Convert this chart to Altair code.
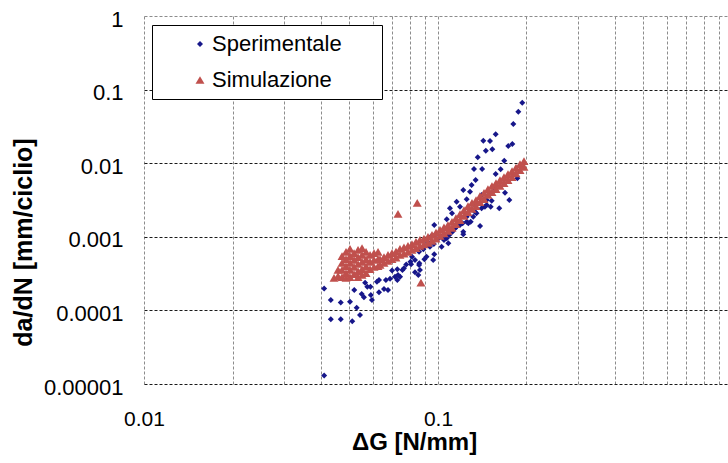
import altair as alt
import pandas as pd

# ---- Sperimentale (blue diamonds) ----
sper_x = [0.0410, 0.0432, 0.0467, 0.0502, 0.0432, 0.0467, 0.0511, 0.0529, 0.0543, 0.0410,
          0.0519, 0.0550, 0.0560, 0.0565, 0.0575, 0.0589, 0.0591, 0.0596, 0.0620, 0.0630,
          0.0630, 0.0655, 0.0676, 0.0665, 0.0687, 0.0698, 0.0714, 0.0727, 0.0727, 0.0743,
          0.0757, 0.0766, 0.0780, 0.0806, 0.0816, 0.0810, 0.0835, 0.0864, 0.0868, 0.0862,
          0.0899, 0.0892, 0.0914, 0.0927, 0.0939, 0.0963, 0.0971, 0.0968, 0.0927, 0.0952,
          0.0977, 0.1010, 0.1029, 0.1029, 0.1048, 0.1071, 0.1084, 0.1092, 0.1084, 0.1120,
          0.1142, 0.1157, 0.1188, 0.1219, 0.1219, 0.1213, 0.1252, 0.1268, 0.1292, 0.1318,
          0.1335, 0.1352, 0.1390, 0.1407, 0.1444, 0.1464, 0.1511, 0.1523, 0.1616, 0.1690,
          0.1748, 0.1497, 0.1157, 0.1188, 0.1098, 0.1116, 0.1219, 0.1285, 0.1301, 0.1407,
          0.0971, 0.1071, 0.1326, 0.1413, 0.1343, 0.1252, 0.1335, 0.1252, 0.0862, 0.0731,
          0.0835, 0.0857, 0.1935, 0.1876, 0.1804, 0.1571, 0.1426, 0.1503, 0.1454, 0.1530,
          0.1734, 0.1790, 0.1365, 0.1680, 0.1633, 0.1571, 0.1862, 0.1554, 0.1464]
sper_y = [0.000198, 0.000138, 0.000128, 0.000131, 0.0000757, 0.0000757, 0.0000711, 0.000109, 0.0000866, 0.0000130,
          0.000189, 0.000167, 0.000151, 0.000238, 0.000210, 0.000210, 0.000162, 0.000138, 0.000245, 0.000259,
          0.000176, 0.000195, 0.000189, 0.000259, 0.000270, 0.000348, 0.000287, 0.000259, 0.000362, 0.000287,
          0.000354, 0.000373, 0.000420, 0.000459, 0.000537, 0.000423, 0.000484, 0.000437, 0.000354, 0.000627,
          0.000495, 0.000676, 0.000537, 0.000774, 0.000734, 0.000484, 0.000578, 0.000798, 0.000831, 0.00103,
          0.00106, 0.000972, 0.00100, 0.000734, 0.000905, 0.000954, 0.000816, 0.00106, 0.00124, 0.00117,
          0.00130, 0.00137, 0.00145, 0.00117, 0.00108, 0.00153, 0.00160, 0.00153, 0.00160, 0.00187,
          0.00219, 0.00209, 0.00140, 0.00244, 0.00256, 0.00270, 0.00256, 0.00309, 0.00244, 0.00397,
          0.00316, 0.00390, 0.00300, 0.00256, 0.00244, 0.00209, 0.00432, 0.00410, 0.00505, 0.00370,
          0.00145, 0.00173, 0.00834, 0.00834, 0.00591, 0.00323, 0.00270, 0.00187, 0.000414, 0.000303,
          0.000329, 0.000303, 0.0664, 0.0501, 0.0341, 0.0247, 0.0202, 0.0200, 0.0148, 0.0155,
          0.0171, 0.0182, 0.0120, 0.0108, 0.00826, 0.00713, 0.00623, 0.00456, 0.00316]

# ---- Simulazione (red triangles) ----
sim_x = [0.0443, 0.0731, 0.0850, 0.0875,
         0.04570, 0.04570,
         0.04716, 0.04716, 0.04716, 0.04716,
         0.04866, 0.04866, 0.04866, 0.04866, 0.04866,
         0.05021, 0.05021, 0.05021, 0.05021, 0.05021,
         0.05181, 0.05181, 0.05181, 0.05181,
         0.05346, 0.05346, 0.05346, 0.05346, 0.05346,
         0.05516, 0.05516, 0.05516, 0.05516, 0.05516,
         0.05692, 0.05692, 0.05692, 0.05692,
         0.05873, 0.05873, 0.05873,
         0.06060, 0.06060, 0.06060,
         0.06253, 0.06253, 0.06253,
         0.06350, 0.06350, 0.06552, 0.06552, 0.06760, 0.06760, 0.06975, 0.06975,
         0.07197, 0.07197, 0.07425, 0.07425, 0.07661, 0.07661, 0.07905, 0.07905,
         0.08156, 0.08156, 0.08415, 0.08415, 0.08683, 0.08683, 0.08959, 0.08959,
         0.09244, 0.09244, 0.09541, 0.09541, 0.09845, 0.09845, 0.1016, 0.1016,
         0.1048, 0.1048, 0.1081, 0.1081, 0.1116, 0.1116, 0.1151, 0.1151,
         0.1188, 0.1188, 0.1226, 0.1226, 0.1265, 0.1265, 0.1305, 0.1305,
         0.1347, 0.1347, 0.1389, 0.1389, 0.1434, 0.1434, 0.1479, 0.1479,
         0.1526, 0.1526, 0.1575, 0.1575, 0.1625, 0.1625, 0.1677, 0.1677,
         0.1730, 0.1730, 0.1786, 0.1786, 0.1842, 0.1842, 0.1901, 0.1901,
         0.1961, 0.1961]
sim_y = [0.000276, 0.00205, 0.00290, 0.000238,
         0.000354, 0.000293,
         0.000548, 0.000441, 0.000354, 0.000284,
         0.000622, 0.000499, 0.000401, 0.000322, 0.000276,
         0.000683, 0.000548, 0.000441, 0.000354, 0.000284,
         0.000602, 0.000484, 0.000389, 0.000312,
         0.000662, 0.000531, 0.000427, 0.000343, 0.000284,
         0.000704, 0.000566, 0.000455, 0.000365, 0.000303,
         0.000622, 0.000499, 0.000401, 0.000322,
         0.000566, 0.000455, 0.000365,
         0.000602, 0.000484, 0.000389,
         0.000622, 0.000499, 0.000401,
         0.000499, 0.000414, 0.000531, 0.000441, 0.000566, 0.000469, 0.000602, 0.000499,
         0.000631, 0.000523, 0.000683, 0.000566, 0.000716, 0.000593, 0.000750, 0.000622,
         0.000798, 0.000662, 0.000850, 0.000704, 0.000905, 0.000750, 0.000948, 0.000786,
         0.000994, 0.000824, 0.001058, 0.000877, 0.001144, 0.000948, 0.00124, 0.00103,
         0.00134, 0.00111, 0.001446, 0.00120, 0.00159, 0.00132, 0.00180, 0.00149,
         0.00204, 0.00169, 0.00231, 0.00192, 0.00262, 0.00217, 0.00288, 0.00239,
         0.00316, 0.00262, 0.00358, 0.00297, 0.00394, 0.00326, 0.00446, 0.00370,
         0.00490, 0.00406, 0.00538, 0.00446, 0.00591, 0.00490, 0.00649, 0.00538,
         0.00713, 0.00591, 0.00783, 0.00649, 0.00874, 0.00725, 0.00975, 0.00808,
         0.01071, 0.00888]

series_names = ["Sperimentale", "Simulazione"]
series_colors = ["#17178A", "#C0504D"]
series_shapes = ["diamond", "triangle-up"]
series_sizes = [36, 80]

x_grid = [0.01, 0.02, 0.03, 0.04, 0.05, 0.06, 0.07, 0.08, 0.09,
          0.1, 0.2, 0.3, 0.4, 0.5, 0.6, 0.7, 0.8, 0.9]
y_grid = [0.00001, 0.0001, 0.001, 0.01, 0.1, 1]

df = pd.concat([
    pd.DataFrame({"x": sper_x, "y": sper_y, "serie": series_names[0]}),
    pd.DataFrame({"x": sim_x, "y": sim_y, "serie": series_names[1]}),
], ignore_index=True)
df["ord"] = range(len(df))

FONT = "Liberation Sans"

chart = alt.Chart(df).mark_point(filled=True, opacity=1, strokeWidth=0).encode(
    x=alt.X("x:Q",
            scale=alt.Scale(type="log", domain=[0.01, 0.9692], nice=False, zero=False),
            axis=alt.Axis(values=x_grid, format=".2~f",
                          labelExpr="(datum.value == 0.01 || datum.value == 0.1) ? datum.label : ''",
                          title="ΔG [N/mm]", titleX=270, titleY=65, titleBaseline="alphabetic",
                          titleAlign="center", titleFont=FONT, titleFontSize=24,
                          titleFontWeight="bold", titleColor="black",
                          gridColor="#8c8c8c", gridDash=[3, 2], gridWidth=1,
                          domain=False, ticks=False, tickSize=0, labelFlush=False,
                          labelAlign="center", labelBaseline="top",
                          labelPadding=24, labelFont=FONT, labelColor="black",
                          labelFontSize=21, labelOverlap=False)),
    y=alt.Y("y:Q",
            scale=alt.Scale(type="log", domain=[0.00001, 1], nice=False, zero=False),
            axis=alt.Axis(values=y_grid, format=".5~f",
                          title="da/dN [mm/ciclio]", titleX=-113, titleY=226,
                          titleBaseline="alphabetic", titleAlign="center", titleAngle=270,
                          titleFont=FONT, titleFontSize=25, titleFontWeight="bold",
                          titleColor="black",
                          gridColor={"condition": {"test": "datum.value == 1", "value": "#8c8c8c"},
                                     "value": "#1a1a1a"},
                          gridDash=[3, 2], gridWidth=1,
                          domain=False, ticks=False, tickSize=0, labelFlush=False,
                          labelAlign="right", labelBaseline="middle",
                          labelPadding=21, labelOffset=3, labelFont=FONT, labelColor="black",
                          labelFontSize=22, labelOverlap=False)),
    color=alt.Color("serie:N", scale=alt.Scale(domain=series_names, range=series_colors),
                    legend=alt.Legend(orient="none", legendX=8, legendY=9,
                                      title="M", titleOrient="right", titleOpacity=0,
                                      titleFontSize=16, titlePadding=18, titleFont=FONT,
                                      strokeColor="black", fillColor="white", padding=8,
                                      labelFontSize=22, labelFont=FONT, labelColor="black",
                                      symbolOffset=29, labelOffset=1, rowPadding=14,
                                      symbolStrokeWidth=0, cornerRadius=0)),
    shape=alt.Shape("serie:N", scale=alt.Scale(domain=series_names, range=series_shapes)),
    size=alt.Size("serie:N", scale=alt.Scale(domain=series_names, range=series_sizes)),
    order=alt.Order("ord:Q"),
).properties(
    width=584, height=368,
    background="white",
    autosize=alt.AutoSizeParams(type="none"),
    padding={"left": 144, "top": 16, "right": 0, "bottom": 79},
).configure_view(
    stroke=None
)

chart.save("out.html", embed_options={"renderer": "svg", "actions": False})
